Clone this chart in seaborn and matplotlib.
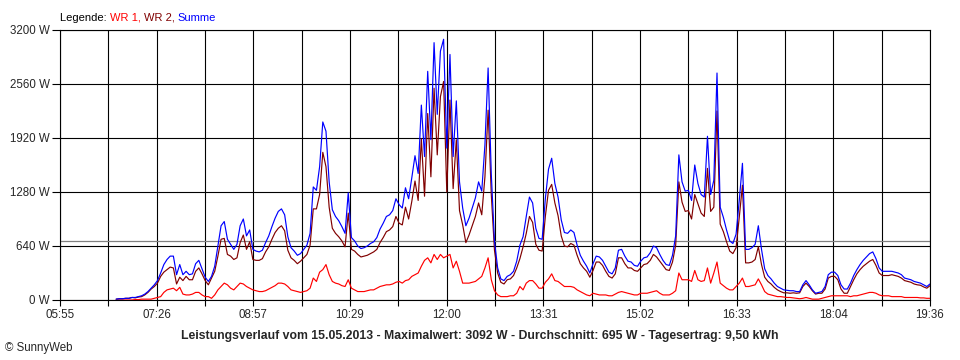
import numpy as np
import pandas as pd
import matplotlib
matplotlib.use("Agg")
import matplotlib.pyplot as plt
import seaborn as sns
from matplotlib.offsetbox import TextArea, HPacker, AnchoredOffsetbox

# Messwerte alle 3 Minuten ab 06:48 (Minuten seit Mitternacht)
start_minute = 408
step_minutes = 3

summe = [
    10, 15, 15, 20, 20, 30, 30, 40, 50, 70,
    100, 140, 180, 230, 320, 420, 480, 520, 520, 300,
    420, 300, 340, 300, 310, 430, 470, 370, 270, 220,
    280, 400, 640, 880, 930, 720, 660, 600, 660, 880,
    960, 760, 830, 600, 580, 570, 590, 680, 760, 870,
    970, 1050, 1080, 1010, 750, 620, 580, 530, 550, 600,
    650, 790, 1340, 1300, 1580, 2110, 2000, 1400, 1070, 990,
    940, 870, 790, 1270, 740, 700, 640, 610, 620, 640,
    670, 690, 740, 840, 910, 990, 1010, 1060, 1200, 1130,
    1090, 1330, 1200, 1450, 1710, 1500, 2310, 1700, 2710, 1900,
    3050, 2200, 2950, 3090, 1800, 2910, 1700, 2360, 1400, 1090,
    880, 970, 1090, 1210, 1400, 1290, 1840, 2750, 1490, 700,
    380, 250, 230, 280, 300, 340, 460, 650, 750, 990,
    1220, 1150, 850, 730, 720, 1200, 1550, 1680, 1380, 1220,
    950, 800, 790, 830, 800, 650, 530, 460, 400, 320,
    430, 520, 510, 470, 400, 330, 310, 380, 590, 600,
    520, 460, 450, 410, 400, 460, 500, 510, 560, 640,
    620, 540, 470, 420, 410, 530, 760, 1720, 1400, 1290,
    1300, 1180, 1600, 1380, 1250, 1220, 1940, 1250, 1420, 2690,
    1100, 980, 830, 700, 670, 780, 1180, 1620, 600, 600,
    620, 660, 880, 600, 370, 290, 250, 200, 160, 140,
    120, 115, 110, 110, 100, 100, 180, 230, 180, 120,
    80, 90, 100, 160, 300, 330, 330, 290, 180, 130,
    130, 200, 290, 360, 420, 470, 510, 550, 570, 490,
    380, 340, 340, 340, 340, 330, 320, 300, 260, 250,
    240, 220, 210, 200, 180, 160, 190,
]

wr1 = [
    0, 0, 0, 0, 0, 0, 5, 5, 10, 10,
    10, 10, 20, 30, 40, 90, 120, 130, 140, 110,
    150, 70, 60, 60, 70, 90, 90, 60, 40, 40,
    20, 60, 120, 160, 200, 180, 140, 120, 160, 200,
    190, 160, 140, 120, 110, 100, 100, 110, 130, 150,
    170, 200, 200, 190, 160, 120, 110, 100, 90, 100,
    110, 140, 260, 220, 330, 360, 420, 300, 220, 200,
    190, 170, 160, 240, 140, 120, 100, 100, 100, 110,
    120, 120, 140, 160, 170, 180, 180, 190, 210, 220,
    200, 230, 240, 280, 300, 320, 400, 470, 500, 440,
    540, 480, 540, 500, 520, 540, 380, 460, 340, 200,
    200, 200, 210, 220, 250, 280, 380, 500, 240, 110,
    60, 40, 40, 40, 50, 50, 80, 160, 120, 200,
    230, 230, 190, 140, 140, 210, 250, 310, 230, 220,
    190, 160, 160, 160, 150, 120, 100, 80, 60, 50,
    80, 70, 60, 60, 60, 50, 50, 70, 90, 100,
    90, 80, 70, 60, 60, 80, 80, 80, 90, 100,
    110, 80, 60, 60, 60, 80, 110, 320, 240, 240,
    240, 220, 350, 240, 220, 230, 380, 200, 320, 450,
    200, 170, 140, 120, 120, 160, 200, 260, 160, 160,
    170, 180, 250, 180, 100, 70, 60, 50, 40, 40,
    35, 30, 30, 25, 20, 15, 20, 30, 20, 10,
    10, 10, 20, 30, 40, 50, 50, 50, 50, 50,
    50, 40, 50, 50, 60, 70, 80, 90, 90, 80,
    60, 50, 50, 50, 40, 40, 40, 40, 30, 30,
    30, 30, 30, 25, 25, 20, 20,
]

durchschnitt = 695
tick_labels = ["05:55", "07:26", "08:57", "10:29", "12:00",
               "13:31", "15:02", "16:33", "18:04", "19:36"]
y_ticks = [0, 640, 1280, 1920, 2560, 3200]
titel = ("Leistungsverlauf vom 15.05.2013 - Maximalwert: 3092 W - "
         "Durchschnitt: 695 W - Tagesertrag: 9,50 kWh")

# WR 2 = Summe - WR 1
minutes = start_minute + step_minutes * np.arange(len(summe))
wr1 = np.array(wr1)
summe = np.array(summe)
wr2 = summe - wr1

df = pd.concat([
    pd.DataFrame({"minute": minutes, "leistung": wr1, "serie": "WR 1"}),
    pd.DataFrame({"minute": minutes, "leistung": wr2, "serie": "WR 2"}),
    pd.DataFrame({"minute": minutes, "leistung": summe, "serie": "Summe"}),
])

sns.set_style("white")
plt.rcParams["font.family"] = ["Liberation Sans", "DejaVu Sans"]

farben = {"WR 1": "#ff0000", "WR 2": "#800000", "Summe": "#0000ff"}

fig = plt.figure(figsize=(9.6, 3.6), dpi=100)
ax = fig.add_axes([60 / 960, 60 / 360, 870 / 960, 270 / 360])

x_min, x_max = 355, 1176
ax.set_xlim(x_min, x_max)
ax.set_ylim(0, 3200)

major = np.linspace(x_min, x_max, len(tick_labels))
minor = (major[:-1] + major[1:]) / 2
ax.set_xticks(major)
ax.set_xticklabels(tick_labels)
ax.set_xticks(minor, minor=True)
ax.set_yticks(y_ticks)
ax.set_yticklabels([f"{v} W" for v in y_ticks])
ax.grid(True, which="both", axis="x", color="black", linewidth=0.8)
ax.grid(True, which="major", axis="y", color="black", linewidth=0.8)
ax.tick_params(axis="x", which="both", length=4.5, width=0.8, color="black",
               pad=2, labelsize=8.3, bottom=True)
ax.tick_params(axis="y", length=5.8, width=0.8, color="black", pad=1.5,
               labelsize=8.3, left=True)
for sp in ax.spines.values():
    sp.set_color("black")
    sp.set_linewidth(0.8)
ax.set_axisbelow(True)

ax.axhline(durchschnitt, color="#808080", linewidth=0.9, zorder=1.5)

sns.lineplot(data=df, x="minute", y="leistung", hue="serie",
             hue_order=["WR 1", "WR 2", "Summe"], palette=farben,
             estimator=None, legend=False, linewidth=0.85, ax=ax, zorder=3)
ax.set_xlabel("")
ax.set_ylabel("")

# Legende als farbige Textzeile
teile = [("Legende: ", "black"), ("WR 1, ", farben["WR 1"]),
         ("WR 2, ", farben["WR 2"]), ("Summe", farben["Summe"])]
boxes = [TextArea(t, textprops=dict(color=c, fontsize=8)) for t, c in teile]
zeile = HPacker(children=boxes, align="baseline", pad=0, sep=0)
legende = AnchoredOffsetbox(loc="lower left", child=zeile, pad=0, borderpad=0,
                            frameon=False, bbox_to_anchor=(60 / 960, 1 - 23 / 360),
                            bbox_transform=fig.transFigure)
fig.add_artist(legende)

fig.text(480 / 960, 1 - 336 / 360, titel, ha="center", va="center",
         fontsize=8.8, fontweight="bold")
fig.text(5 / 960, 1 - 348 / 360, "\u00a9 SunnyWeb", ha="left", va="center",
         fontsize=8.3)

fig.savefig("out.png", dpi=100, facecolor="white")
